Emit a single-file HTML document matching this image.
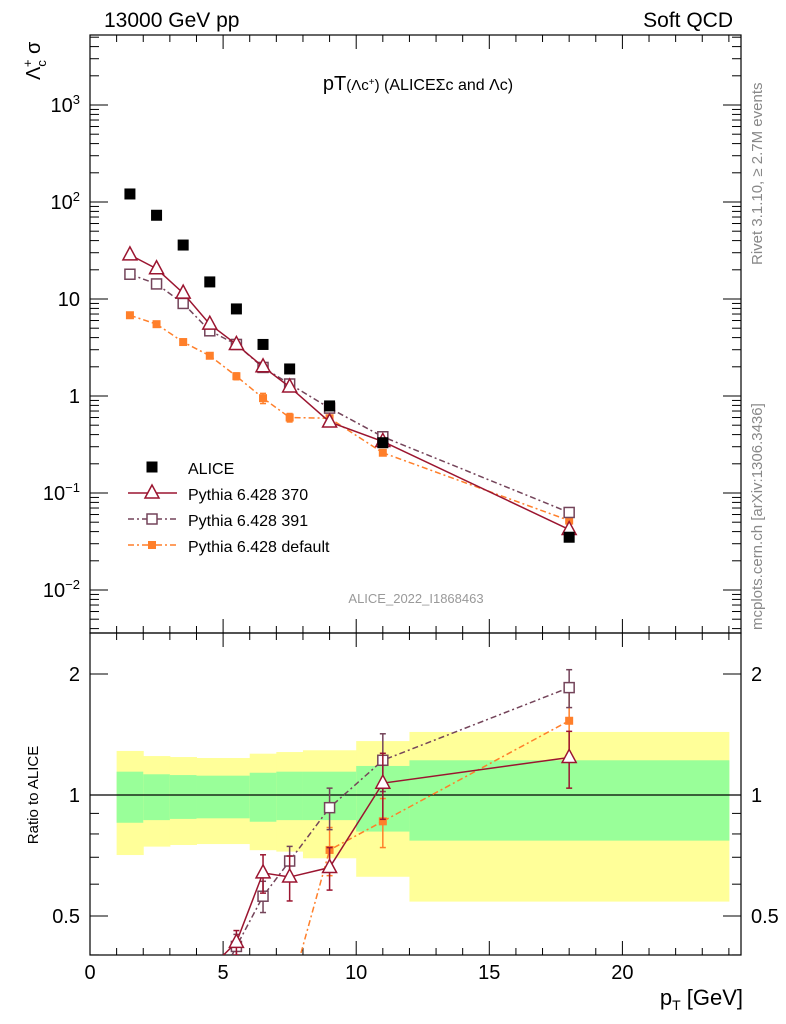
<!DOCTYPE html>
<html><head><meta charset="utf-8"><style>
html,body{margin:0;background:#fff;width:786px;height:1024px;overflow:hidden;}
svg{display:block;font-family:"Liberation Sans",sans-serif;}
</style></head><body>
<svg id="c" width="786" height="1024" xmlns="http://www.w3.org/2000/svg">
<g id="bands"></g>
<g id="axes"></g>
<g id="series"></g>
<text x="104" y="27" font-size="21">13000 GeV pp</text>
<text x="733" y="27" font-size="21" text-anchor="end">Soft QCD</text>
<text x="418" y="90" font-size="20" text-anchor="middle">pT<tspan font-size="15">(Λc<tspan baseline-shift="super" font-size="10">+</tspan>)</tspan><tspan font-size="16"> (ALICEΣc and Λc)</tspan></text>
<text transform="translate(40,80) rotate(-90)" font-size="20">Λ<tspan font-size="13" dy="6">c</tspan><tspan font-size="13" dx="-7" dy="-14">+</tspan><tspan dy="8"> σ</tspan></text>
<text transform="translate(38,795) rotate(-90)" font-size="15" text-anchor="middle">Ratio to ALICE</text>
<text x="743" y="1005" font-size="22" text-anchor="end">p<tspan font-size="14" dy="5">T</tspan><tspan dy="-5"> [GeV]</tspan></text>
<text transform="translate(762,265) rotate(-90)" font-size="15" fill="#888">Rivet 3.1.10, ≥ 2.7M events</text>
<text transform="translate(762,630) rotate(-90)" font-size="15" fill="#888">mcplots.cern.ch [arXiv:1306.3436]</text>
<text x="416" y="603" font-size="13" fill="#999" text-anchor="middle">ALICE_2022_I1868463</text>
<g id="legend"></g>
</svg>
<script>
const xs=[1.5,2.5,3.5,4.5,5.5,6.5,7.5,9,11,18];
const alice=[121,73,36,15,7.9,3.4,1.9,0.79,0.33,0.035];
const p370=[28.5,20.5,11.5,5.5,3.4,2.0,1.24,0.54,0.34,0.042];
const p391=[18,14.3,9,4.7,3.4,1.97,1.33,0.75,0.38,0.063];
const pdef=[6.8,5.5,3.6,2.6,1.6,0.95,0.6,0.59,0.26,0.052];
const pdefErr=[0.05,0.05,0.05,0.05,0.08,0.12,0.1,0.03,0.05,0.08];
const r370=[0.12,0.2,0.32,0.37,0.43,0.64,0.625,0.66,1.07,1.24];
const r391=[0.1,0.19,0.25,0.31,0.42,0.56,0.685,0.93,1.22,1.85];
const rdef=[0.056,0.075,0.1,0.17,0.2,0.28,0.32,0.73,0.86,1.53];
const rErr370=[0,0,0,0,0.03,0.07,0.08,0.08,0.2,0.2];
const rErr391=[0,0,0,0,0.03,0.05,0.06,0.11,0.2,0.2];
const rErrDef=[0,0,0,0,0,0,0,0.1,0.12,0.3];
const binEdges=[1,2,3,4,6,7,8,10,12,24];
const yelHi=[1.287,1.25,1.243,1.236,1.267,1.279,1.292,1.362,1.435];
const grnHi=[1.143,1.126,1.121,1.117,1.136,1.143,1.143,1.181,1.22];
const grnLo=[0.853,0.866,0.872,0.875,0.858,0.866,0.866,0.811,0.77];
const yelLo=[0.709,0.744,0.751,0.755,0.729,0.723,0.696,0.626,0.543];
const xTicks=[0,5,10,15,20];
const yDecades=[-2,-1,0,1,2,3];
const yLabels=["10<tspan dy='-8' font-size='13'>−2</tspan>","10<tspan dy='-8' font-size='13'>−1</tspan>","1","10","10<tspan dy='-8' font-size='13'>2</tspan>","10<tspan dy='-8' font-size='13'>3</tspan>"];
const rTicks=[0.5,1,2];

const NS="http://www.w3.org/2000/svg";
const L=90,R=741,T=35,M=633,B=955;
const X=v=>L+v*26.62;
const Y=v=>396-97*Math.log10(v);
const YR=v=>795-121*Math.log2(v);
function mk(p,tag,a){const e=document.createElementNS(NS,tag);for(const k in a)e.setAttribute(k,a[k]);p.appendChild(e);return e;}
const svg=document.getElementById('c');
const defs=mk(svg,'defs',{});
const c1=mk(defs,'clipPath',{id:'cm'});mk(c1,'rect',{x:L,y:T,width:R-L,height:M-T});
const c2=mk(defs,'clipPath',{id:'cr'});mk(c2,'rect',{x:L,y:M,width:R-L,height:B-M});

const bands=document.getElementById('bands');
for(let i=0;i<binEdges.length-1;i++){
  const x0=X(binEdges[i]),w=X(binEdges[i+1])-x0;
  const yb=mk(bands,'rect',{x:x0,y:YR(yelHi[i]),width:w+0.5,height:YR(yelLo[i])-YR(yelHi[i]),fill:'#ffff99'});
  
  
  const gb=mk(bands,'rect',{x:x0,y:YR(grnHi[i]),width:w+0.5,height:YR(grnLo[i])-YR(grnHi[i]),fill:'#99ff99'});
  
  
}
const ax=document.getElementById('axes');
mk(ax,'line',{x1:L,x2:R,y1:YR(1),y2:YR(1),stroke:'#000','stroke-width':1.2});
mk(ax,'rect',{x:L,y:T,width:R-L,height:M-T,fill:'none',stroke:'#000','stroke-width':1.2});
mk(ax,'rect',{x:L,y:M,width:R-L,height:B-M,fill:'none',stroke:'#000','stroke-width':1.2});
for(let v=0;v<=24;v++){
  const maj=v%5==0,len=maj?14:7,x=X(v);
  for(const [a,b] of [[T,M],[M,B]]){
    mk(ax,'line',{x1:x,x2:x,y1:a,y2:a+len,stroke:'#000'});
    mk(ax,'line',{x1:x,x2:x,y1:b,y2:b-len,stroke:'#000'});
  }
}
xTicks.forEach(v=>{const t=mk(ax,'text',{x:X(v),y:979,'font-size':20,'text-anchor':'middle'});t.textContent=v;
 
 });
yDecades.forEach((d,i)=>{
  const y=Y(Math.pow(10,d));
  mk(ax,'line',{x1:L,x2:L+18,y1:y,y2:y,stroke:'#000'});mk(ax,'line',{x1:R,x2:R-18,y1:y,y2:y,stroke:'#000'});
  const t=mk(ax,'text',{x:80,y:y+7,'font-size':20,'text-anchor':'end'});t.innerHTML=yLabels[i];
  
  
});
for(let d=-3;d<=3;d++)for(let m=2;m<=9;m++){const y=Y(m*Math.pow(10,d));if(y<T||y>M)continue;
  mk(ax,'line',{x1:L,x2:L+9,y1:y,y2:y,stroke:'#000'});mk(ax,'line',{x1:R,x2:R-9,y1:y,y2:y,stroke:'#000'});}
[0.4,0.5,0.6,0.7,0.8,0.9,1,2].forEach(v=>{const y=YR(v);const len=rTicks.includes(v)?18:9;
  mk(ax,'line',{x1:L,x2:L+len,y1:y,y2:y,stroke:'#000'});mk(ax,'line',{x1:R,x2:R-len,y1:y,y2:y,stroke:'#000'});});
rTicks.forEach(v=>{const y=YR(v)+7;
  const t=mk(ax,'text',{x:80,y:y,'font-size':20,'text-anchor':'end'});t.textContent=v;
  
  
  const t2=mk(ax,'text',{x:751,y:y,'font-size':20});t2.textContent=v;
  
  });

const S=document.getElementById('series');
function marker(g,kind,x,y,col){
  if(kind=='tri') return mk(g,'path',{d:`M${x},${y-8}L${x+7},${y+5}L${x-7},${y+5}Z`,fill:'#fff',stroke:col,'stroke-width':1.5});
  if(kind=='sq') return mk(g,'rect',{x:x-5,y:y-5,width:10,height:10,fill:'#fff',stroke:col,'stroke-width':1.5});
  if(kind=='fsq') return mk(g,'rect',{x:x-4,y:y-4,width:8,height:8,fill:col});
  return mk(g,'rect',{x:x-5.5,y:y-5.5,width:11,height:11,fill:col});
}
function series(name,vals,yf,clip,col,dash,kind,err,errAbs){
  const g=mk(S,'g',{'clip-path':`url(#${clip})`});
  
  
  if(col!='#000') mk(g,'polyline',{points:vals.map((v,i)=>X(xs[i])+','+yf(v)).join(' '),fill:'none',stroke:col,'stroke-width':1.5,'stroke-dasharray':dash});
  vals.forEach((v,i)=>{
    const x=X(xs[i]),y=yf(v);
    if(err&&err[i]){const e=errAbs?err[i]:err[i]*v;const y1=yf(v+e),y2=yf(Math.max(v-e,1e-4));
      mk(g,'line',{x1:x,x2:x,y1:y1,y2:y2,stroke:col,'stroke-width':1.5});
      mk(g,'line',{x1:x-3,x2:x+3,y1:y1,y2:y1,stroke:col,'stroke-width':1.5});mk(g,'line',{x1:x-3,x2:x+3,y1:y2,y2:y2,stroke:col,'stroke-width':1.5});}
    const m=marker(g,kind,x,y,col);
    
    
  });
}
const C370='#9b1530',C391='#74445a',CDEF='#ff7f2a';
series('pythia-default',pdef,Y,'cm',CDEF,'6 3 2 3','fsq',pdefErr,false);
series('pythia-391',p391,Y,'cm',C391,'6 3 2 3','sq',null);
series('pythia-370',p370,Y,'cm',C370,'','tri',null);
series('alice-data',alice,Y,'cm','#000','','bsq',null);
series('ratio-default',rdef,YR,'cr',CDEF,'6 3 2 3','fsq',rErrDef,true);
series('ratio-391',r391,YR,'cr',C391,'6 3 2 3','sq',rErr391,true);
series('ratio-370',r370,YR,'cr',C370,'','tri',rErr370,true);

const lg=document.getElementById('legend');
const items=[['ALICE','#000','','bsq'],['Pythia 6.428 370',C370,'','tri'],['Pythia 6.428 391',C391,'6 3 2 3','sq'],['Pythia 6.428 default',CDEF,'6 3 2 3','fsq']];
items.forEach((it,i)=>{const y=467+26*i;
  const g=mk(lg,'g',{});
  
  
  if(i>0) mk(g,'line',{x1:128,x2:177,y1:y,y2:y,stroke:it[1],'stroke-width':1.5,'stroke-dasharray':it[2]});
  marker(g,it[3],152,y,it[1]);
  const t=mk(g,'text',{x:188,y:y+7,'font-size':16});t.textContent=it[0];});
</script>
</body></html>
